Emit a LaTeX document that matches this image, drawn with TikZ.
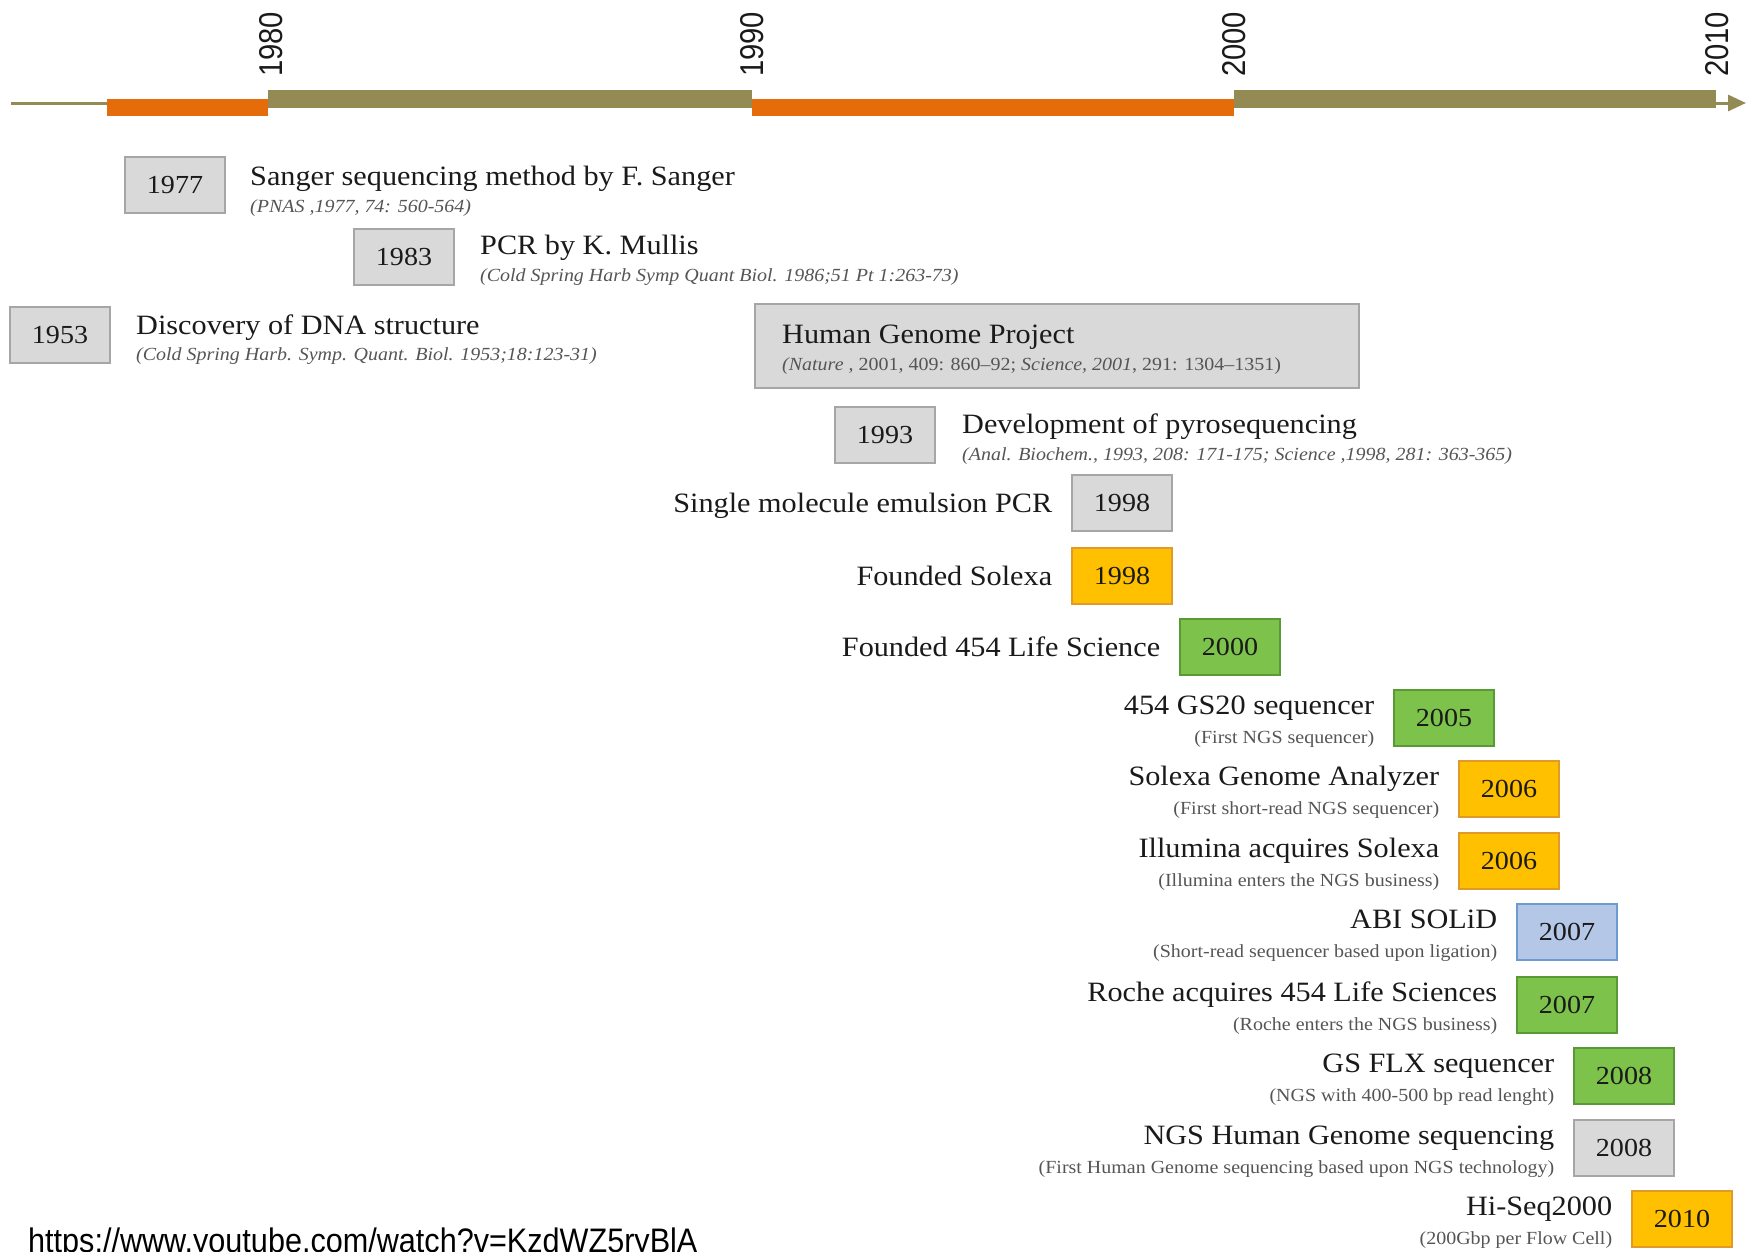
\documentclass[tikz,border=0pt]{standalone}
\usepackage{fontspec}
\setmainfont{Liberation Serif}[FakeStretch=1.08]
\newfontfamily\axisfont{Liberation Sans}[FakeStretch=0.885]
\newfontfamily\urlfont{Liberation Sans}[FakeStretch=0.9]
\usetikzlibrary{arrows.meta}
\definecolor{tlorange}{HTML}{E46C0A}
\definecolor{tlolive}{HTML}{948A54}
\definecolor{bgray}{HTML}{D9D9D9}
\definecolor{bgrayd}{HTML}{A6A6A6}
\definecolor{borange}{HTML}{FFC000}
\definecolor{borangd}{HTML}{E09A2A}
\definecolor{bgreen}{HTML}{7DC24B}
\definecolor{bgreend}{HTML}{5A9A36}
\definecolor{bblue}{HTML}{B4C7E7}
\definecolor{bblued}{HTML}{6C9BD2}
\definecolor{titlec}{HTML}{1A1A1A}
\definecolor{subc}{HTML}{555555}
\tikzset{
  yearbox/.style={draw, line width=1.2pt, minimum width=100pt, minimum height=56pt, inner sep=0pt, font=\fontsize{26}{30}\selectfont, text=titlec},
  graybox/.style={yearbox, fill=bgray, draw=bgrayd},
  orangebox/.style={yearbox, fill=borange, draw=borangd},
  greenbox/.style={yearbox, fill=bgreen, draw=bgreend},
  bluebox/.style={yearbox, fill=bblue, draw=bblued},
  title/.style={inner sep=0pt, font=\fontsize{28}{32}\selectfont, text=titlec},
  refit/.style={inner sep=0pt, font=\fontsize{18.5}{22}\selectfont\itshape, text=subc},
  subtxt/.style={inner sep=0pt, font=\fontsize{18.5}{22}\selectfont, text=subc},
  axislabel/.style={rotate=90, anchor=west, inner sep=0pt, font=\axisfont\fontsize{33}{38}\selectfont, text=titlec},
  rtitle/.style={title, anchor=base east},
  rsub/.style={subtxt, anchor=base east},
}
\begin{document}
\begin{tikzpicture}[x=1pt, y=-1pt]
\useasboundingbox (0,0) rectangle (1764,1251);
% timeline
\coordinate (axs) at (11,103);
\coordinate (axe) at (1746,103);
\draw[tlolive, line width=3pt, -{Triangle[length=18pt, width=16pt]}] (axs) -- (axe);
\fill[tlorange] (107,99) rectangle (268,116);
\fill[tlolive] (268,90) rectangle (752,108);
\fill[tlorange] (752,99) rectangle (1234,116);
\fill[tlolive] (1234,90) rectangle (1716,108);
\node[axislabel] (l1980) at (271,77) {1980};
\node[axislabel] (l1990) at (752,77) {1990};
\node[axislabel] (l2000) at (1234,77) {2000};
\node[axislabel] (l2010) at (1717,77) {2010};
% left-aligned entries
\node[graybox] (b1977) at (175,185) {1977};
\node[title, anchor=base west] (t1977) at (250,185) {Sanger sequencing method by F. Sanger};
\node[refit, anchor=base west] (r1977) at (250,212) {(PNAS ,1977, 74: 560-564)};
\node[graybox] (b1983) at (404,257) {1983};
\node[title, anchor=base west] (t1983) at (480,254) {PCR by K. Mullis};
\node[refit, anchor=base west] (r1983) at (480,281) {(Cold Spring Harb Symp Quant Biol. 1986;51 Pt 1:263-73)};
\node[graybox] (b1953) at (60,335) {1953};
\node[title, anchor=base west] (t1953) at (136,334) {Discovery of DNA structure};
\node[refit, anchor=base west] (r1953) at (136,360) {(Cold Spring Harb. Symp. Quant. Biol. 1953;18:123-31)};
\node[graybox, minimum width=604pt, minimum height=84pt] (bhgp) at (1057,346) {};
\node[title, anchor=base west] (thgp) at (782,343) {Human Genome Project};
\node[subtxt, anchor=base west] (rhgp) at (782,370) {{\itshape (Nature} , 2001, 409: 860–92; {\itshape Science, 2001}, 291: 1304–1351)};
\node[graybox] (b1993) at (885,435) {1993};
\node[title, anchor=base west] (t1993) at (962,433) {Development of pyrosequencing};
\node[refit, anchor=base west] (r1993) at (962,460) {(Anal. Biochem., 1993, 208: 171-175; Science ,1998, 281: 363-365)};
% right-aligned single-line entries
\node[graybox] (b1998a) at (1122,503) {1998};
\node[rtitle] (t1998a) at ([xshift=-19pt, yshift=-9pt]b1998a.west) {Single molecule emulsion PCR};
\node[orangebox] (b1998b) at (1122,576) {1998};
\node[rtitle] (t1998b) at ([xshift=-19pt, yshift=-9pt]b1998b.west) {Founded Solexa};
\node[greenbox] (b2000) at (1230,647) {2000};
\node[rtitle] (t2000) at ([xshift=-19pt, yshift=-9pt]b2000.west) {Founded 454 Life Science};
% right-aligned two-line entries
\node[greenbox] (b2005) at (1444,718) {2005};
\node[rtitle] (t2005) at ([xshift=-19pt, yshift=4pt]b2005.west) {454 GS20 sequencer};
\node[rsub] (s2005) at ([xshift=-19pt, yshift=-25pt]b2005.west) {(First NGS sequencer)};
\node[orangebox] (b2006a) at (1509,789) {2006};
\node[rtitle] (t2006a) at ([xshift=-19pt, yshift=4pt]b2006a.west) {Solexa Genome Analyzer};
\node[rsub] (s2006a) at ([xshift=-19pt, yshift=-25pt]b2006a.west) {(First short-read NGS sequencer)};
\node[orangebox] (b2006b) at (1509,861) {2006};
\node[rtitle] (t2006b) at ([xshift=-19pt, yshift=4pt]b2006b.west) {Illumina acquires Solexa};
\node[rsub] (s2006b) at ([xshift=-19pt, yshift=-25pt]b2006b.west) {(Illumina enters the NGS business)};
\node[bluebox] (b2007a) at (1567,932) {2007};
\node[rtitle] (t2007a) at ([xshift=-19pt, yshift=4pt]b2007a.west) {ABI SOLiD};
\node[rsub] (s2007a) at ([xshift=-19pt, yshift=-25pt]b2007a.west) {(Short-read sequencer based upon ligation)};
\node[greenbox] (b2007b) at (1567,1005) {2007};
\node[rtitle] (t2007b) at ([xshift=-19pt, yshift=4pt]b2007b.west) {Roche acquires 454 Life Sciences};
\node[rsub] (s2007b) at ([xshift=-19pt, yshift=-25pt]b2007b.west) {(Roche enters the NGS business)};
\node[greenbox] (b2008a) at (1624,1076) {2008};
\node[rtitle] (t2008a) at ([xshift=-19pt, yshift=4pt]b2008a.west) {GS FLX sequencer};
\node[rsub] (s2008a) at ([xshift=-19pt, yshift=-25pt]b2008a.west) {(NGS with 400-500 bp read lenght)};
\node[graybox] (b2008b) at (1624,1148) {2008};
\node[rtitle] (t2008b) at ([xshift=-19pt, yshift=4pt]b2008b.west) {NGS Human Genome sequencing};
\node[rsub] (s2008b) at ([xshift=-19pt, yshift=-25pt]b2008b.west) {(First Human Genome sequencing based upon NGS technology)};
\node[orangebox] (b2010) at (1682,1219) {2010};
\node[rtitle] (t2010) at ([xshift=-19pt, yshift=4pt]b2010.west) {Hi-Seq2000};
\node[rsub] (s2010) at ([xshift=-19pt, yshift=-25pt]b2010.west) {(200Gbp per Flow Cell)};
% source
\node[anchor=base west, inner sep=0pt, font=\urlfont\fontsize{34}{40}\selectfont, text=black] (url) at (28,1252) {https://www.youtube.com/watch?v=KzdWZ5ryBlA};
\end{tikzpicture}
\end{document}
